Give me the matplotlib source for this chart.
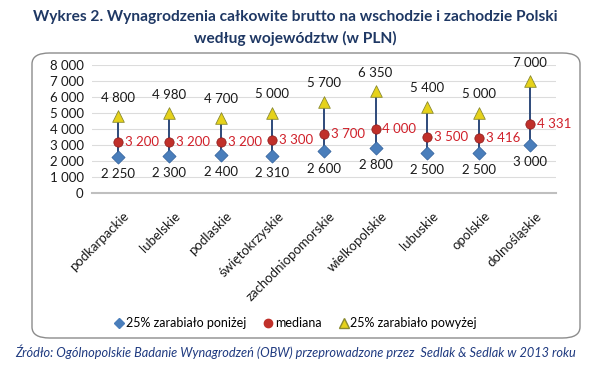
import matplotlib.pyplot as plt
from matplotlib.patches import FancyBboxPatch
from matplotlib.lines import Line2D
from matplotlib.transforms import ScaledTranslation

plt.rcParams['font.family'] = ['Lato', 'DejaVu Sans']

regions = ["podkarpackie", "lubelskie", "podlaskie", "świętokrzyskie",
           "zachodniopomorskie", "wielkopolskie", "lubuskie", "opolskie",
           "dolnośląskie"]
low = [2250, 2300, 2400, 2310, 2600, 2800, 2500, 2500, 3000]
median = [3200, 3200, 3200, 3300, 3700, 4000, 3500, 3416, 4331]
high = [4800, 4980, 4700, 5000, 5700, 6350, 5400, 5000, 7000]
yticks = [0, 1000, 2000, 3000, 4000, 5000, 6000, 7000, 8000]


def fmt(v):
    return "{:,}".format(v).replace(",", " ")


fig = plt.figure(figsize=(5.91, 3.66), dpi=100)
navy = "#1F3864"

# title
fig.text(0.5, 1 - 17 / 366, "Wykres 2. Wynagrodzenia całkowite brutto na wschodzie i zachodzie Polski",
         ha="center", va="center", fontsize=11.2, fontweight="bold", color=navy)
fig.text(0.5, 1 - 38 / 366, "według województw (w PLN)",
         ha="center", va="center", fontsize=11.2, fontweight="bold", color=navy)

# rounded frame
frame = FancyBboxPatch((32 / 591, 1 - 338 / 366), (580 - 32) / 591, (338 - 53) / 366,
                       boxstyle="round,pad=0,rounding_size=0.03", transform=fig.transFigure,
                       facecolor="white", edgecolor="#8C8C8C", linewidth=1.0, zorder=-1)
fig.patches.append(frame)

ax = fig.add_axes([92 / 591, 1 - 193 / 366, (556 - 92) / 591, (193 - 65) / 366])
ax.set_facecolor("none")
x = list(range(len(regions)))

ax.vlines(x, low, high, color="#2E4A7A", linewidth=1.4, zorder=2)
ax.scatter(x, low, marker="D", s=45, color="#4A7EBB", edgecolor="#2F5F9A", linewidth=0.5, zorder=3)
ax.scatter(x, median, marker="o", s=45, color="#C0302A", edgecolor="#8B1A1A", linewidth=0.5, zorder=3)
ax.scatter(x, high, marker="^", s=70, color="#E6D21A", edgecolor="#8A8A30", linewidth=0.6, zorder=3)

for i in x:
    ax.annotate(fmt(high[i]), (i, high[i]), xytext=(0, 9), textcoords="offset points",
                ha="center", va="bottom", fontsize=9.5, color="#1A1A1A")
    ax.annotate(fmt(median[i]), (i, median[i]), xytext=(5, 0), textcoords="offset points",
                ha="left", va="center", fontsize=9.5, color="#D0202A")
    ax.annotate(fmt(low[i]), (i, low[i]), xytext=(0, -8), textcoords="offset points",
                ha="center", va="top", fontsize=9.5, color="#1A1A1A")

ax.set_xlim(-0.5, len(regions) - 0.5)
ax.set_ylim(0, 8000)
ax.set_yticks(yticks)
ax.set_yticklabels([fmt(v) for v in yticks], fontsize=9.5, color="#1A1A1A")
ax.set_xticks(x)
ax.tick_params(length=0, pad=6)
ax.tick_params(axis="x", pad=12)
ax.set_xticklabels(regions, rotation=45, ha="right", va="top", rotation_mode="anchor",
                   fontsize=9.5, color="#1A1A1A")
shift = ScaledTranslation(5 / 100, 0, fig.dpi_scale_trans)
for lab in ax.get_xticklabels():
    lab.set_transform(lab.get_transform() + shift)
ax.grid(axis="y", color="#DCDCDC", linewidth=0.8)
ax.set_axisbelow(True)
for s in ["top", "right", "left"]:
    ax.spines[s].set_visible(False)
ax.spines["bottom"].set_color("#BFBFBF")
ax.spines["bottom"].set_linewidth(1.5)

handles = [
    Line2D([], [], marker="D", linestyle="none", markersize=5, color="#4A7EBB"),
    Line2D([], [], marker="o", linestyle="none", markersize=6, color="#C0302A"),
    Line2D([], [], marker="^", linestyle="none", markersize=7, color="#E6D21A", markeredgecolor="#8A8A30"),
]
fig.legend(handles, ["25% zarabiało poniżej", "mediana", "25% zarabiało powyżej"],
           loc="center", bbox_to_anchor=(0.5, 1 - 323 / 366), ncol=3, frameon=False,
           fontsize=9, handletextpad=0.1, columnspacing=1.4, handlelength=0.8)

fig.text(0.5, 1 - 352 / 366,
         "Źródło: Ogólnopolskie Badanie Wynagrodzeń (OBW) przeprowadzone przez  Sedlak & Sedlak w 2013 roku",
         ha="center", va="center", fontsize=9.2, style="italic", color="#1F3A80")

fig.savefig("out.png", dpi=100)
